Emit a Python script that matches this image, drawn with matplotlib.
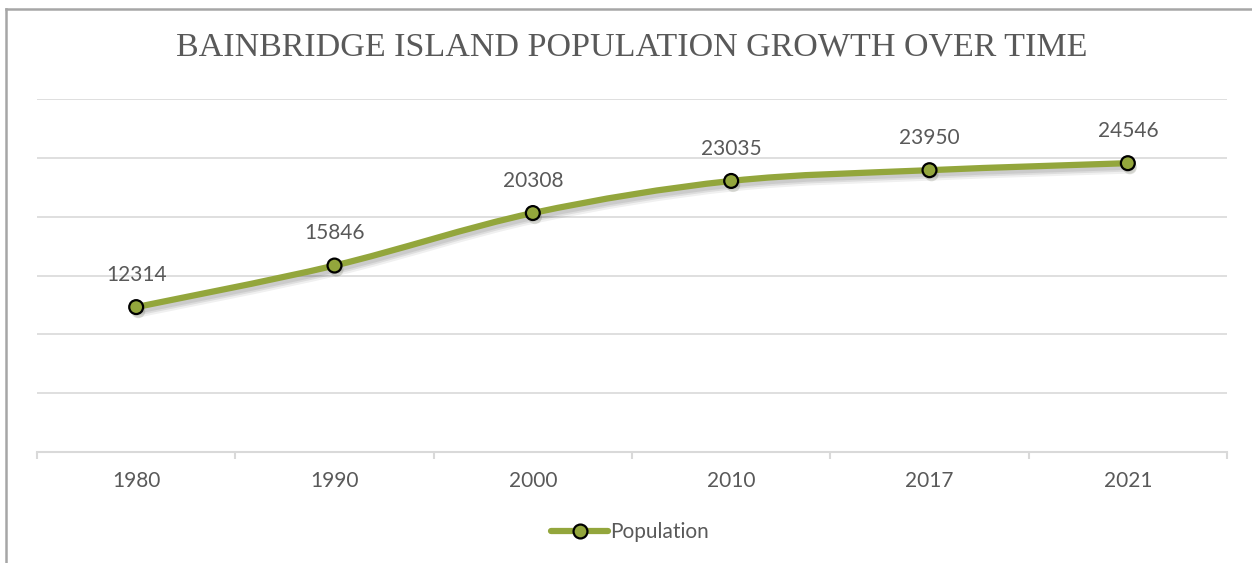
import numpy as np
import matplotlib
matplotlib.use("Agg")
import matplotlib.pyplot as plt
from matplotlib.path import Path
from matplotlib.patches import PathPatch
from matplotlib.lines import Line2D
import matplotlib.patheffects as pe

years = ['1980', '1990', '2000', '2010', '2017', '2021']
population = [12314, 15846, 20308, 23035, 23950, 24546]

green = '#93a63c'
grid_col = '#d9d9d9'
text_col = '#595959'


def smooth_path(xs, ys, t=1/6):
    # bezier segments through each point (catmull-rom style control points)
    verts = [(xs[0], ys[0])]
    codes = [Path.MOVETO]
    n = len(xs)
    for i in range(n - 1):
        p0 = (xs[max(i - 1, 0)], ys[max(i - 1, 0)])
        p1 = (xs[i], ys[i])
        p2 = (xs[i + 1], ys[i + 1])
        p3 = (xs[min(i + 2, n - 1)], ys[min(i + 2, n - 1)])
        c1 = (p1[0] + (p2[0] - p0[0]) * t, p1[1] + (p2[1] - p0[1]) * t)
        c2 = (p2[0] - (p3[0] - p1[0]) * t, p2[1] - (p3[1] - p1[1]) * t)
        verts += [c1, c2, p2]
        codes += [Path.CURVE4] * 3
    return Path(verts, codes)


fig = plt.figure(figsize=(12.52, 5.63), dpi=100)
ax = fig.add_axes([37 / 1252, 111 / 563, 1190 / 1252, 353 / 563])

x = np.arange(len(years))
ax.set_xlim(-0.5, len(years) - 0.5)
ax.set_ylim(0, 30000)

for yv in range(5000, 30001, 5000):
    ax.axhline(yv, color=grid_col, lw=1.2, zorder=0)

# soft drop shadow under the line: a few widening, faint strokes
shadow = [pe.SimpleLineShadow(offset=(1.5, -3), shadow_color='#000000', alpha=0.06, linewidth=9),
          pe.SimpleLineShadow(offset=(1.5, -3), shadow_color='#000000', alpha=0.08, linewidth=6),
          pe.SimpleLineShadow(offset=(1.5, -3), shadow_color='#000000', alpha=0.08, linewidth=3.5),
          pe.Normal()]
curve = PathPatch(smooth_path(x, population), facecolor='none', edgecolor=green,
                  lw=4.5, capstyle='round', zorder=2, path_effects=shadow)
ax.add_patch(curve)
ax.plot(x, population, linestyle='none', marker='o', markersize=10,
        markerfacecolor=green, markeredgecolor='black', markeredgewidth=1.6,
        zorder=3, path_effects=[pe.SimplePatchShadow(offset=(1.5, -3), alpha=0.15), pe.Normal()])

for xi, val in zip(x, population):
    ax.annotate(str(val), (xi, val), xytext=(0, 16), textcoords='offset points',
                ha='center', va='bottom', fontsize=15, color=text_col, family='Lato')

for s in ['top', 'right', 'left']:
    ax.spines[s].set_visible(False)
ax.spines['bottom'].set_color(grid_col)
ax.spines['bottom'].set_linewidth(1.5)
ax.set_yticks([])
ax.set_xticks(x)
ax.set_xticklabels(years, fontsize=15, color=text_col, family='Lato')
ax.tick_params(axis='x', length=0, pad=14)
ax.set_xticks(np.arange(-0.5, len(years)), minor=True)
ax.tick_params(axis='x', which='minor', length=5, width=1.5, color=grid_col, direction='out')

fig.text(632 / 1252, 1 - 47 / 563, 'BAINBRIDGE ISLAND POPULATION GROWTH OVER TIME',
         ha='center', va='center', fontsize=24.5, color=text_col, family='Liberation Serif')

legend_handle = Line2D([], [], color=green, lw=4.5, marker='o', markersize=10,
                       markerfacecolor=green, markeredgecolor='black', markeredgewidth=1.6,
                       solid_capstyle='round')
fig.legend([legend_handle], ['Population'], loc='center', bbox_to_anchor=(630 / 1252, 1 - 532 / 563),
           frameon=False, prop={'family': 'Lato', 'size': 15},
           labelcolor=text_col, handlelength=2.7, handletextpad=0.1)

# outer chart frame (top and left edges)
fig.add_artist(Line2D([6 / 1252, 1], [1 - 9 / 563, 1 - 9 / 563], color='#a6a6a6', lw=1.8))
fig.add_artist(Line2D([6 / 1252, 6 / 1252], [0, 1 - 9 / 563], color='#a6a6a6', lw=1.8))

fig.savefig('out.png', dpi=100, facecolor='white')
